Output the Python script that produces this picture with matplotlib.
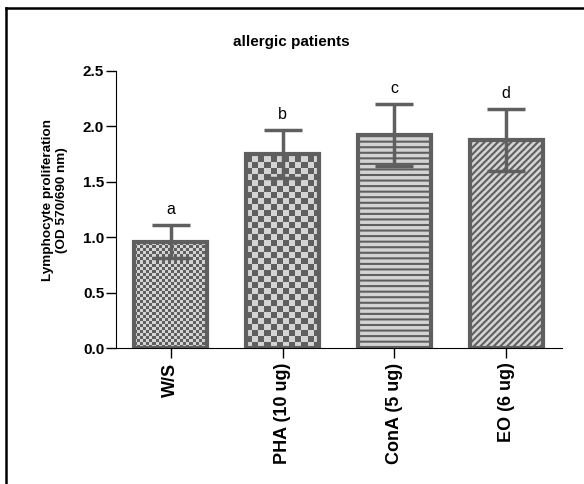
import matplotlib.pyplot as plt
import numpy as np
from matplotlib.lines import Line2D

plt.rcParams["font.family"] = ["Liberation Sans", "DejaVu Sans"]
plt.rcParams["hatch.linewidth"] = 1.5

groupes = ["W/S", "PHA (10 ug)", "ConA (5 ug)", "EO (6 ug)"]
moyennes = [0.96, 1.75, 1.92, 1.88]
erreurs = [0.15, 0.22, 0.28, 0.28]
lettres = ["a", "b", "c", "d"]

gris = "#5f5f5f"
clair = "#d4d4d4"

fig = plt.figure(figsize=(5.84, 4.84), dpi=100)
axe = fig.add_axes([116 / 584, 1 - 348 / 484, 446 / 584, 277 / 484])
axe.set_xlim(-0.49, 3.5)
axe.set_ylim(0, 2.5)

x = np.arange(len(groupes))
largeur = 0.655

# textures : damier fin, damier large, lignes horizontales, diagonales
pxParX = 446 / (3.5 + 0.49)
pxParY = 277 / 2.5
for i, cellule in [(0, 3.0), (1, 6.0)]:
    nx = int(round(largeur * pxParX / cellule))
    ny = int(round(moyennes[i] * pxParY / cellule)) + 1
    damier = (np.add.outer(np.arange(ny), np.arange(nx)) % 2).astype(float)
    x0 = x[i] - largeur / 2
    hauteurCellule = cellule / pxParY
    im = axe.imshow(
        damier,
        cmap=plt.matplotlib.colors.ListedColormap([clair, gris]),
        extent=(x0, x0 + largeur, 0, ny * hauteurCellule),
        origin="lower",
        interpolation="nearest",
        aspect="auto",
        zorder=1,
    )
    rect = plt.Rectangle((x0, 0), largeur, moyennes[i], transform=axe.transData)
    im.set_clip_path(rect)

hachures = [None, None, "---", "/////"]
for i in range(len(groupes)):
    axe.bar(
        x[i],
        moyennes[i],
        width=largeur,
        facecolor="none" if hachures[i] is None else clair,
        edgecolor=gris,
        hatch=hachures[i],
        linewidth=0,
        zorder=1,
    )
axe.bar(
    x,
    moyennes,
    width=largeur,
    facecolor="none",
    edgecolor=gris,
    linewidth=3,
    zorder=2,
)

axe.errorbar(
    x,
    moyennes,
    yerr=erreurs,
    fmt="none",
    ecolor=gris,
    elinewidth=2.5,
    capsize=14,
    capthick=2.5,
    zorder=3,
)

for xi, m, e, lettre in zip(x, moyennes, erreurs, lettres):
    axe.text(xi, m + e + 0.07, lettre, ha="center", va="bottom", fontsize=11.5)

axe.spines["top"].set_visible(False)
axe.spines["right"].set_visible(False)
axe.set_yticks([0, 0.5, 1.0, 1.5, 2.0, 2.5])
axe.set_yticklabels(["0.0", "0.5", "1.0", "1.5", "2.0", "2.5"], fontsize=11, fontweight="bold")
axe.set_xticks(x)
axe.set_xticklabels(groupes, rotation=90, fontsize=13, fontweight="bold")
axe.tick_params(axis="x", length=7, width=1)
axe.tick_params(axis="y", length=7, width=1, pad=1.5)

axe.set_ylabel(
    "Lymphocyte proliferation\n(OD 570/690 nm)",
    fontsize=9.7,
    fontweight="bold",
)
axe.yaxis.set_label_coords(-0.108, 0.534)
fig.text(291 / 584, 1 - 42 / 484, "allergic patients", ha="center", va="center",
         fontsize=11, fontweight="bold")

# cadre
fig.add_artist(Line2D([6 / 584, 6 / 584], [0, 1 - 8 / 484], color="black", linewidth=1.8,
                      transform=fig.transFigure))
fig.add_artist(Line2D([6 / 584, 1], [1 - 8 / 484, 1 - 8 / 484], color="black", linewidth=1.8,
                      transform=fig.transFigure))

fig.savefig("out.png", dpi=100)
